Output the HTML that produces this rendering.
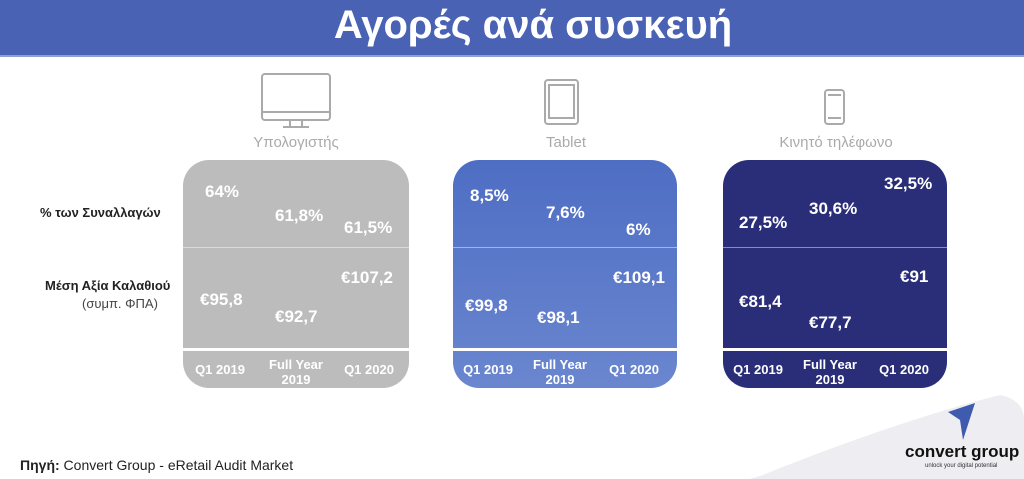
<!DOCTYPE html><html><head><meta charset="utf-8"><style>
body{margin:0;width:1024px;height:479px;background:#fff;position:relative;overflow:hidden;font-family:"Liberation Sans","DejaVu Sans",sans-serif}
.hdr{position:absolute;left:0;top:0;width:1024px;height:55px;background:#4a62b4;border-bottom:2px solid #8fa0d4}
.hdr div{position:absolute;width:100%;left:21px;top:3px;text-align:center;color:#fff;font-size:40px;font-weight:bold}
.p{position:absolute;top:160px;width:226px;height:228px;border-radius:26px;overflow:hidden}
.p .l1{position:absolute;left:0;right:0;top:87px;height:1px;background:rgba(255,255,255,.45)}
.p .l2{position:absolute;left:0;right:0;top:188px;height:3px;background:#fff}
.v{position:absolute;color:#fff;font-weight:bold;font-size:17px}
.q{position:absolute;color:#fff;font-weight:bold;font-size:13px;text-align:center;width:70px;line-height:15px}
.t{position:absolute;color:#aaa;font-size:15px;text-align:center;width:226px}
.lab{position:absolute;font-size:14px;color:#222}
</style></head><body>
<div class="hdr"><div>Αγορές ανά συσκευή</div></div>

<svg style="position:absolute;left:0;top:0" width="1024" height="479">
<g fill="none" stroke="#aaa" stroke-width="2">
<rect x="262" y="74" width="68" height="46" rx="3"/><line x1="262" y1="112" x2="330" y2="112"/>
<line x1="290" y1="120" x2="290" y2="127"/><line x1="302" y1="120" x2="302" y2="127"/><line x1="283" y1="127" x2="309" y2="127"/>
<rect x="545" y="80" width="33" height="44" rx="3"/><rect x="549" y="85" width="25" height="33"/>
<rect x="825" y="90" width="19" height="34" rx="3"/><line x1="828" y1="95" x2="841" y2="95"/><line x1="828" y1="118" x2="841" y2="118"/>
</g>
<path d="M760 476 Q900 420 1000 395 Q1024 400 1024 420 L1024 479 L750 479 Z" fill="#eeeef2"/>
<path d="M948 412 L975 403 L963 440 L960 420 Z" fill="#3f5bb0"/>
</svg>

<div class="t" style="left:183px;top:134px">Υπολογιστής</div>
<div class="t" style="left:453px;top:134px">Tablet</div>
<div class="t" style="left:723px;top:134px">Κινητό τηλέφωνο</div>

<div class="lab" style="left:40px;top:205px;font-weight:bold;font-size:13px">% των Συναλλαγών</div>
<div class="lab" style="left:45px;top:278px;font-weight:bold;font-size:13px">Μέση Αξία Καλαθιού</div>
<div class="lab" style="left:82px;top:296px;color:#444;font-size:13px">(συμπ. ΦΠΑ)</div>

<div class="p" style="left:183px;background:#bcbcbc">
<div class="l1"></div><div class="l2"></div>
<div class="v" style="left:22px;top:22px">64%</div>
<div class="v" style="left:92px;top:46px">61,8%</div>
<div class="v" style="left:161px;top:58px">61,5%</div>
<div class="v" style="left:158px;top:108px">€107,2</div>
<div class="v" style="left:17px;top:130px">€95,8</div>
<div class="v" style="left:92px;top:147px">€92,7</div>
<div class="q" style="left:2px;top:202px">Q1 2019</div>
<div class="q" style="left:78px;top:197px">Full Year<br>2019</div>
<div class="q" style="left:151px;top:202px">Q1 2020</div>
</div>

<div class="p" style="left:453px;width:224px;background:linear-gradient(#4e6ec4,#6a86cf)">
<div class="l1"></div><div class="l2"></div>
<div class="v" style="left:17px;top:26px">8,5%</div>
<div class="v" style="left:93px;top:43px">7,6%</div>
<div class="v" style="left:173px;top:60px">6%</div>
<div class="v" style="left:160px;top:108px">€109,1</div>
<div class="v" style="left:12px;top:136px">€99,8</div>
<div class="v" style="left:84px;top:148px">€98,1</div>
<div class="q" style="left:0px;top:202px">Q1 2019</div>
<div class="q" style="left:72px;top:197px">Full Year<br>2019</div>
<div class="q" style="left:146px;top:202px">Q1 2020</div>
</div>

<div class="p" style="left:723px;width:224px;background:#2a2e78">
<div class="l1"></div><div class="l2"></div>
<div class="v" style="left:16px;top:53px">27,5%</div>
<div class="v" style="left:86px;top:39px">30,6%</div>
<div class="v" style="left:161px;top:14px">32,5%</div>
<div class="v" style="left:177px;top:107px">€91</div>
<div class="v" style="left:16px;top:132px">€81,4</div>
<div class="v" style="left:86px;top:153px">€77,7</div>
<div class="q" style="left:0px;top:202px">Q1 2019</div>
<div class="q" style="left:72px;top:197px">Full Year<br>2019</div>
<div class="q" style="left:146px;top:202px">Q1 2020</div>
</div>

<div class="lab" style="left:20px;top:457px;font-size:14px"><b>Πηγή:</b> Convert Group - eRetail Audit Market</div>
<div style="position:absolute;left:905px;top:442px;font-size:17px;font-weight:bold;color:#111">convert group</div>
<div style="position:absolute;left:925px;top:463px;font-size:6px;color:#333">unlock your digital potential</div>
</body></html>
